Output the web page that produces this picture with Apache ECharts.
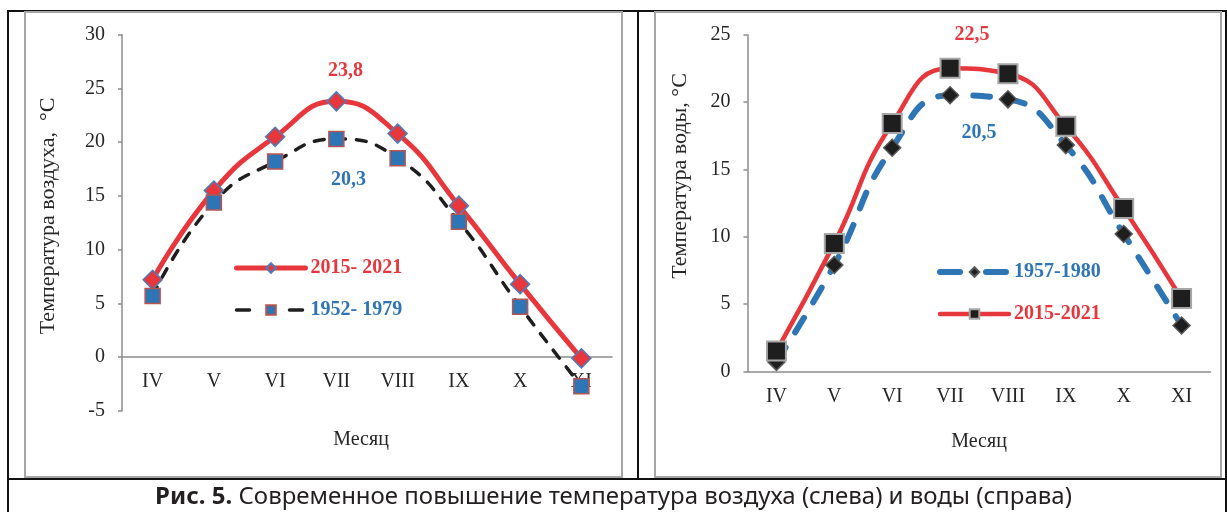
<!DOCTYPE html>
<html><head><meta charset="utf-8">
<script src="https://cdn.jsdelivr.net/npm/echarts@6/dist/echarts.min.js"></script>
<style>html,body{margin:0;padding:0;background:#fff}#c{width:1227px;height:512px}</style>
</head><body><div id="c"></div>
<script>
// ---- data ----
const months = ['IV', 'V', 'VI', 'VII', 'VIII', 'IX', 'X', 'XI'];
const airNames = ['2015- 2021', '1952- 1979'];
const air2015 = [7.2, 15.5, 20.5, 23.8, 20.8, 14.1, 6.8, -0.1];
const air1952 = [5.7, 14.4, 18.2, 20.3, 18.5, 12.6, 4.7, -2.7];
const waterNames = ['1957-1980', '2015-2021'];
const water1957 = [0.7, 7.9, 16.6, 20.5, 20.2, 16.8, 10.2, 3.4];
const water2015 = [1.5, 9.5, 18.4, 22.5, 22.1, 18.2, 12.1, 5.4];
const airAxis = { min: -5, max: 30, interval: 5 };
const waterAxis = { min: 0, max: 25, interval: 5 };
const peakIndex = 3; // labelled month (VII)
const airYName = 'Температура воздуха,  °C';
const waterYName = 'Температура воды, °C';
const xName = 'Месяц';
const captionBold = 'Рис. 5.';
const captionText = ' Современное повышение температура воздуха (слева) и воды (справа)';

// ---- styles ----
const RED = '#e8373c', BLUE = '#2e75b6', DARK = '#1e1e1e', AX = '#8c8c8c', TXT = '#262626';
const SERIF = 'Liberation Serif';
const fmt = p => String(p.value).replace('.', ',');
const G0 = { left: 122, top: 34.7, width: 490, height: 376.3 };
const G1 = { left: 747.5, top: 34.7, width: 463, height: 336.6 };
// move the category axis of the left chart up to the zero line (through the value scale)
const zeroShift0 = -G0.height * (0 - airAxis.min) / (airAxis.max - airAxis.min);

function withLabel(arr, idx, color, offset) {
  return arr.map((v, i) => i === idx ? {
    value: v,
    label: { show: true, position: 'inside', offset: offset, formatter: fmt,
      color: color, fontFamily: SERIF, fontWeight: 'bold', fontSize: 20 }
  } : v);
}

function xAxisOpt(gi, gap, offset) {
  return {
    type: 'category', gridIndex: gi, data: months, boundaryGap: true, position: 'bottom', offset: offset,
    axisLine: { onZero: false, lineStyle: { color: AX, width: 1.5 } },
    axisTick: { show: false },
    axisLabel: { interval: 0, margin: 15, fontFamily: SERIF, fontSize: 20, color: TXT },
    name: xName, nameLocation: 'middle', nameGap: gap,
    nameTextStyle: { fontFamily: SERIF, fontSize: 20, color: TXT, padding: gi === 0 ? [0, 12, 0, 0] : 0 }
  };
}
function yAxisOpt(gi, ax, name, gap, shift) {
  return {
    type: 'value', gridIndex: gi, min: ax.min, max: ax.max, interval: ax.interval,
    splitLine: { show: false },
    axisLine: { show: true, onZero: false, lineStyle: { color: AX, width: 1.5 } },
    axisTick: { show: true, length: 4, lineStyle: { color: AX, width: 1.5 } },
    axisLabel: { margin: 17, fontFamily: SERIF, fontSize: 20, color: TXT },
    name: name, nameLocation: 'middle', nameRotate: 90, nameGap: gap,
    nameTextStyle: { fontFamily: SERIF, fontSize: 22, color: TXT, padding: [0, 0, 0, shift] }
  };
}
const legendText = { fontFamily: SERIF, fontWeight: 'bold', fontSize: 20, lineHeight: 20 };

const chart = echarts.init(document.getElementById('c'), null, { renderer: 'canvas' });
chart.setOption({
  animation: false,
  backgroundColor: '#fff',
  title: {
    left: 'center', top: 480,
    text: '{b|' + captionBold + '}' + captionText,
    textStyle: { fontFamily: 'Noto Sans', fontSize: 24, fontWeight: 'normal', color: '#231f20',
      rich: { b: { fontFamily: 'Noto Sans', fontSize: 24, fontWeight: 'bold', color: '#231f20' } } }
  },
  graphic: [
    { type: 'rect', z: 0, shape: { x: 8, y: 11, width: 1218, height: 520 }, style: { fill: 'none', stroke: '#111', lineWidth: 2 } },
    { type: 'line', z: 0, shape: { x1: 8, y1: 479, x2: 1227, y2: 479 }, style: { stroke: '#111', lineWidth: 2 } },
    { type: 'line', z: 0, shape: { x1: 638, y1: 11, x2: 638, y2: 479 }, style: { stroke: '#111', lineWidth: 2 } },
    { type: 'rect', z: 0, shape: { x: 25, y: 12, width: 597, height: 465 }, style: { fill: 'none', stroke: '#a6a6a6', lineWidth: 2 } },
    { type: 'rect', z: 0, shape: { x: 655, y: 12, width: 566, height: 465 }, style: { fill: 'none', stroke: '#a6a6a6', lineWidth: 2 } }
  ],
  legend: [
    { left: 234, top: 258, padding: 0, orient: 'vertical', itemWidth: 69, itemHeight: 12, itemGap: 22,
      textStyle: legendText,
      data: [
        { name: airNames[0], textStyle: { color: RED }, lineStyle: { width: 5, type: 'solid', cap: 'round' } },
        { name: airNames[1], textStyle: { color: BLUE }, lineStyle: { width: 3.5, type: [13, 40], cap: 'round' } }
      ] },
    { left: 937, top: 262, padding: 0, orient: 'vertical', itemWidth: 69, itemHeight: 12, itemGap: 22,
      textStyle: legendText,
      data: [
        { name: waterNames[0], textStyle: { color: BLUE }, lineStyle: { width: 6, type: [20, 26], cap: 'round' } },
        { name: waterNames[1], textStyle: { color: RED }, lineStyle: { width: 4.5, type: 'solid', cap: 'round' } }
      ] }
  ],
  grid: [
    Object.assign({ containLabel: false, outerBoundsMode: 'none' }, G0),
    Object.assign({ containLabel: false, outerBoundsMode: 'none' }, G1)
  ],
  xAxis: [xAxisOpt(0, 73, zeroShift0), xAxisOpt(1, 60, 0)],
  yAxis: [yAxisOpt(0, airAxis, airYName, 63, 14), yAxisOpt(1, waterAxis, waterYName, 56, 54)],
  series: [
    { name: airNames[0], type: 'line', xAxisIndex: 0, yAxisIndex: 0, smooth: 0.5,
      data: withLabel(air2015, peakIndex, RED, [9, -31]),
      lineStyle: { color: RED, width: 5, cap: 'round' },
      symbol: 'diamond', symbolSize: 19,
      itemStyle: { color: RED, borderColor: '#4a7ebb', borderWidth: 1.5 } },
    { name: airNames[1], type: 'line', xAxisIndex: 0, yAxisIndex: 0, smooth: 0.5,
      data: withLabel(air1952, peakIndex, BLUE, [12, 41]),
      lineStyle: { color: DARK, width: 3.5, type: [10, 11], cap: 'round' },
      symbol: 'rect', symbolSize: 15,
      itemStyle: { color: BLUE, borderColor: '#b85450', borderWidth: 1.5 } },
    { name: waterNames[0], type: 'line', xAxisIndex: 1, yAxisIndex: 1, smooth: 0.5,
      data: withLabel(water1957, peakIndex, BLUE, [29, 38]),
      lineStyle: { color: BLUE, width: 6, type: [17, 18], cap: 'round' },
      symbol: 'diamond', symbolSize: 17,
      itemStyle: { color: DARK, borderColor: '#5a5a5a', borderWidth: 1.5 } },
    { name: waterNames[1], type: 'line', xAxisIndex: 1, yAxisIndex: 1, smooth: 0.5,
      data: withLabel(water2015, peakIndex, RED, [22, -34]),
      lineStyle: { color: RED, width: 4.5, cap: 'round' },
      symbol: 'rect', symbolSize: 19,
      itemStyle: { color: DARK, borderColor: '#a6a6a6', borderWidth: 2 } }
  ]
});
</script></body></html>
